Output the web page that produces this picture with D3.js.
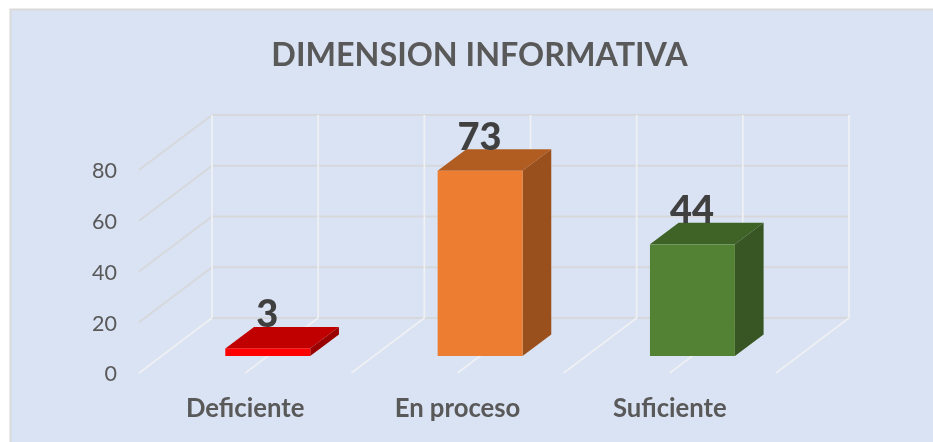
<!DOCTYPE html>
<html>
<head>
<meta charset="utf-8">
<script src="https://cdn.jsdelivr.net/npm/d3@7"></script>
<style>
  html, body { margin: 0; padding: 0; background: #fff; }
  svg { display: block; filter: blur(0.4px); }
  text { font-family: Lato, "Open Sans", sans-serif; }
</style>
</head>
<body>
<div id="chart"></div>
<script>
// data
const chartTitle = "DIMENSION INFORMATIVA";
const categories = ["Deficiente", "En proceso", "Suficiente"];
const values = [3, 73, 44];
const yTicks = [0, 20, 40, 60, 80];

const frontColors = ["#FF0000", "#ED7D31", "#548235"];
const topColors = ["#C00000", "#B15C21", "#3F6226"];
const sideColors = ["#990000", "#99501C", "#375623"];

const width = 933, height = 442;

// 3D look: the wall sits behind the floor front edge, bars sit part way in
const wallDx = 73, wallDy = -55;
const barDx = 28.7, barDy = -21.5;
const barOffsetX = 22.6, barOffsetY = -17;

const svg = d3.select("#chart").append("svg")
  .attr("width", width)
  .attr("height", height);

// chart area
svg.append("rect")
  .attr("x", 10.5).attr("y", 9.5)
  .attr("width", width).attr("height", height)
  .attr("fill", "#DAE3F3")
  .attr("stroke", "#D9D9D9")
  .attr("stroke-width", 2);

const x = d3.scaleBand()
  .domain(categories)
  .range([139, 776])
  .paddingInner(0.6)
  .paddingOuter(0.3);

const y = d3.scaleLinear()
  .domain([0, 80])
  .range([373, 170]);

// title
svg.append("text")
  .attr("x", 479.5).attr("y", 65.5)
  .attr("text-anchor", "middle")
  .attr("font-size", 32.3)
  .attr("font-weight", 700)
  .attr("fill", "#595959")
  .text(chartTitle);

const grid = svg.append("g").attr("fill", "none");

// horizontal lines on the back wall and side wall
yTicks.forEach(t => {
  grid.append("line")
    .attr("x1", x.range()[0] + wallDx).attr("x2", x.range()[1] + wallDx)
    .attr("y1", y(t) + wallDy).attr("y2", y(t) + wallDy)
    .attr("stroke", "#D6D8DB").attr("stroke-width", 1.8);
  if (t > 0) {
    grid.append("line")
      .attr("x1", x.range()[0]).attr("x2", x.range()[0] + wallDx)
      .attr("y1", y(t)).attr("y2", y(t) + wallDy)
      .attr("stroke", "#D6D8DB").attr("stroke-width", 1.8);
  }
});

// vertical wall lines and floor lines, two per category
const gridSteps = d3.range(0, categories.length * 2 + 1);
const gridX = d3.scaleLinear()
  .domain([0, categories.length * 2])
  .range(x.range());

gridSteps.forEach(s => {
  grid.append("line")
    .attr("x1", gridX(s) + wallDx).attr("x2", gridX(s) + wallDx)
    .attr("y1", y(0) + wallDy).attr("y2", y(80) + wallDy)
    .attr("stroke", "#EEF0F3").attr("stroke-width", 1.8);
  grid.append("line")
    .attr("x1", gridX(s)).attr("x2", gridX(s) + wallDx)
    .attr("y1", y(0)).attr("y2", y(0) + wallDy)
    .attr("stroke", "#EEF0F3").attr("stroke-width", 1.8);
});

// bars: top, side, front
const bars = svg.selectAll("g.bar")
  .data(categories)
  .enter()
  .append("g")
  .attr("class", "bar")
  .attr("transform", `translate(${barOffsetX}, ${barOffsetY})`);

bars.append("path")
  .attr("fill", (d, i) => topColors[i])
  .attr("d", (d, i) => {
    const x0 = x(d), x1 = x(d) + x.bandwidth(), yt = y(values[i]);
    return `M${x0},${yt}L${x0 + barDx},${yt + barDy}L${x1 + barDx},${yt + barDy}L${x1},${yt}Z`;
  });

bars.append("path")
  .attr("fill", (d, i) => sideColors[i])
  .attr("d", (d, i) => {
    const x1 = x(d) + x.bandwidth(), yt = y(values[i]), yb = y(0);
    return `M${x1},${yt}L${x1 + barDx},${yt + barDy}L${x1 + barDx},${yb + barDy}L${x1},${yb}Z`;
  });

bars.append("rect")
  .attr("x", d => x(d))
  .attr("y", (d, i) => y(values[i]))
  .attr("width", x.bandwidth())
  .attr("height", (d, i) => y(0) - y(values[i]))
  .attr("fill", (d, i) => frontColors[i]);

// value labels
svg.selectAll("text.value")
  .data(values)
  .enter()
  .append("text")
  .attr("class", "value")
  .attr("x", (d, i) => x(categories[i]) + x.bandwidth() / 2 + barOffsetX - 0.5)
  .attr("y", d => y(d) + barOffsetY - 21)
  .attr("text-anchor", "middle")
  .attr("font-size", 38)
  .attr("font-weight", 900)
  .attr("fill", "#404040")
  .text(d => d);

// y axis labels
const yAxis = svg.append("g")
  .attr("transform", "translate(117, 1)")
  .call(d3.axisLeft(y).tickValues(yTicks).tickSize(0).tickPadding(0));
yAxis.select(".domain").remove();
yAxis.selectAll("text")
  .attr("font-family", "Lato, sans-serif")
  .attr("font-size", 21.5)
  .attr("fill", "#595959");

// category labels
svg.selectAll("text.cat")
  .data(categories)
  .enter()
  .append("text")
  .attr("class", "cat")
  .attr("x", d => x(d) + x.bandwidth() / 2)
  .attr("y", 417)
  .attr("text-anchor", "middle")
  .attr("font-size", 25.7)
  .attr("font-weight", 700)
  .attr("fill", "#595959")
  .text(d => d);
</script>
</body>
</html>
